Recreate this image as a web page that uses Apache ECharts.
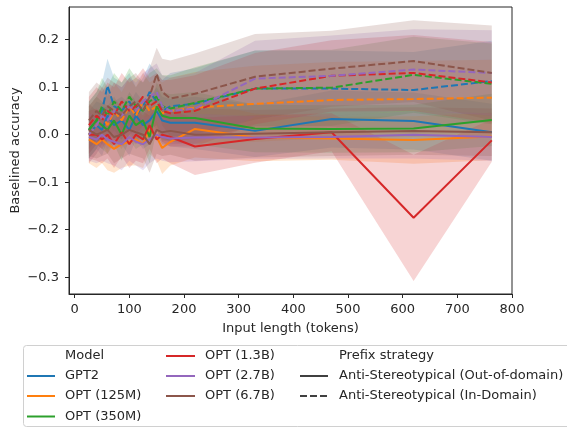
<!DOCTYPE html>
<html>
<head>
<meta charset="utf-8">
<script src="https://cdn.jsdelivr.net/npm/echarts@6/dist/echarts.min.js"></script>
<style>
  html, body { margin: 0; padding: 0; background: #fff; }
  #chart { width: 567px; height: 428px; }
</style>
</head>
<body>
<div id="chart"></div>
<script>
// Input lengths (tokens) at which each model / prefix strategy was evaluated
const xTokens = [26, 40, 50, 60, 72, 86, 100, 112, 125, 137, 150, 160, 175, 220, 330, 470, 620, 763];

const models = ['GPT2', 'OPT (125M)', 'OPT (350M)', 'OPT (1.3B)', 'OPT (2.7B)', 'OPT (6.7B)'];
const strategies = ['Anti-Stereotypical (Out-of-domain)', 'Anti-Stereotypical (In-Domain)'];

const xTicks = [0, 100, 200, 300, 400, 500, 600, 700, 800];
const yTicks = [-0.3, -0.2, -0.1, 0.0, 0.1, 0.2];

// Mean baselined accuracy, Out-of-domain prefix
const gpt2Out  = [0.0, 0.02, 0.01, 0.04, 0.02, 0.03, 0.01, 0.04, 0.02, 0.03, 0.05, 0.03, 0.025, 0.025, 0.008, 0.033, 0.029, 0.005];
const opt125Out = [-0.01, -0.02, -0.01, -0.02, -0.03, -0.02, -0.015, -0.01, -0.02, 0.01, -0.005, -0.028, -0.015, 0.012, -0.006, -0.008, -0.011, -0.004];
const opt350Out = [0.01, 0.03, 0.02, 0.01, 0.03, 0.0, 0.04, 0.02, 0.03, -0.005, 0.06, 0.04, 0.035, 0.035, 0.013, 0.012, 0.013, 0.031];
const opt1_3Out = [0.0, 0.0, -0.01, 0.0, -0.02, 0.005, -0.02, 0.0, -0.01, 0.02, -0.01, 0.0, -0.005, -0.025, -0.009, 0.005, -0.175, -0.012];
const opt2_7Out = [-0.005, -0.01, 0.0, -0.01, -0.015, -0.02, -0.005, -0.015, -0.02, -0.01, 0.0, -0.005, -0.008, -0.006, -0.006, -0.005, 0.0, -0.005];
const opt6_7Out = [0.01, 0.0, 0.005, 0.01, -0.005, 0.0, 0.01, 0.005, 0.0, -0.02, 0.01, 0.005, 0.008, 0.0, 0.002, 0.005, 0.008, 0.005];

// Mean baselined accuracy, In-Domain prefix
const gpt2In  = [0.01, 0.03, 0.05, 0.103, 0.06, 0.05, 0.07, 0.04, 0.06, 0.09, 0.07, 0.05, 0.06, 0.065, 0.097, 0.097, 0.094, 0.113];
const opt125In = [0.0, 0.02, 0.04, 0.02, 0.05, 0.03, 0.06, 0.04, 0.07, 0.05, 0.06, 0.045, 0.05, 0.057, 0.065, 0.073, 0.075, 0.078];
const opt350In = [0.01, 0.03, 0.06, 0.04, 0.07, 0.05, 0.08, 0.06, 0.05, 0.07, 0.08, 0.06, 0.055, 0.067, 0.097, 0.099, 0.126, 0.107];
const opt1_3In = [0.02, 0.04, 0.03, 0.05, 0.04, 0.07, 0.05, 0.06, 0.08, 0.06, 0.07, 0.05, 0.045, 0.05, 0.097, 0.124, 0.13, 0.11];
const opt2_7In = [0.0, 0.02, 0.04, 0.03, 0.05, 0.04, 0.06, 0.05, 0.07, 0.08, 0.09, 0.06, 0.05, 0.055, 0.118, 0.124, 0.137, 0.13];
const opt6_7In = [0.03, 0.05, 0.04, 0.06, 0.05, 0.04, 0.06, 0.07, 0.05, 0.08, 0.128, 0.09, 0.076, 0.086, 0.122, 0.139, 0.155, 0.13];

// 95% confidence interval half-widths, Out-of-domain prefix
const gpt2OutCI  = [0.05, 0.05, 0.055, 0.05, 0.05, 0.05, 0.055, 0.05, 0.05, 0.05, 0.05, 0.05, 0.05, 0.055, 0.055, 0.06, 0.06, 0.06];
const opt125OutCI = [0.05, 0.05, 0.05, 0.055, 0.05, 0.05, 0.05, 0.055, 0.05, 0.05, 0.05, 0.055, 0.05, 0.06, 0.05, 0.045, 0.05, 0.05];
const opt350OutCI = [0.05, 0.05, 0.05, 0.05, 0.05, 0.055, 0.05, 0.05, 0.05, 0.055, 0.05, 0.05, 0.05, 0.055, 0.05, 0.05, 0.05, 0.055];
const opt1_3OutCI = [0.05, 0.055, 0.05, 0.05, 0.05, 0.05, 0.05, 0.055, 0.05, 0.05, 0.05, 0.05, 0.055, 0.06, 0.05, 0.04, 0.133, 0.045];
const opt2_7OutCI = [0.05, 0.05, 0.055, 0.05, 0.05, 0.055, 0.05, 0.05, 0.055, 0.05, 0.05, 0.05, 0.05, 0.05, 0.045, 0.045, 0.05, 0.05];
const opt6_7OutCI = [0.055, 0.05, 0.05, 0.05, 0.055, 0.05, 0.05, 0.05, 0.05, 0.06, 0.05, 0.05, 0.05, 0.055, 0.05, 0.05, 0.05, 0.05];

// 95% confidence interval half-widths, In-Domain prefix
const gpt2InCI  = [0.06, 0.06, 0.06, 0.057, 0.06, 0.06, 0.06, 0.06, 0.06, 0.06, 0.06, 0.065, 0.07, 0.075, 0.08, 0.08, 0.08, 0.085];
const opt125InCI = [0.06, 0.06, 0.06, 0.06, 0.06, 0.06, 0.06, 0.06, 0.06, 0.06, 0.06, 0.065, 0.07, 0.075, 0.08, 0.08, 0.08, 0.08];
const opt350InCI = [0.06, 0.06, 0.06, 0.06, 0.06, 0.06, 0.06, 0.06, 0.06, 0.06, 0.06, 0.065, 0.07, 0.075, 0.08, 0.08, 0.08, 0.085];
const opt1_3InCI = [0.06, 0.06, 0.06, 0.06, 0.06, 0.06, 0.06, 0.06, 0.06, 0.06, 0.06, 0.065, 0.07, 0.075, 0.075, 0.075, 0.08, 0.085];
const opt2_7InCI = [0.06, 0.06, 0.06, 0.06, 0.06, 0.06, 0.06, 0.06, 0.06, 0.06, 0.06, 0.065, 0.07, 0.075, 0.08, 0.085, 0.085, 0.09];
const opt6_7InCI = [0.06, 0.06, 0.06, 0.06, 0.06, 0.06, 0.06, 0.06, 0.06, 0.06, 0.055, 0.07, 0.08, 0.085, 0.09, 0.08, 0.086, 0.1];

const palette = ['#1f77b4', '#ff7f0e', '#2ca02c', '#d62728', '#9467bd', '#8c564b'];

const groups = [
  [gpt2Out, gpt2OutCI, gpt2In, gpt2InCI],
  [opt125Out, opt125OutCI, opt125In, opt125InCI],
  [opt350Out, opt350OutCI, opt350In, opt350InCI],
  [opt1_3Out, opt1_3OutCI, opt1_3In, opt1_3InCI],
  [opt2_7Out, opt2_7OutCI, opt2_7In, opt2_7InCI],
  [opt6_7Out, opt6_7OutCI, opt6_7In, opt6_7InCI]
];

const FONT = 'DejaVu Sans';
const FS = 13;
const INK = '#262626';
const DASH = [7, 3];

// Confidence band: polygon through upper bounds then back along lower bounds
function bandSeries(name, mean, ci, color) {
  return {
    name: name,
    type: 'custom',
    z: 1,
    silent: true,
    animation: false,
    data: [[xTokens[0], mean[0]]],
    renderItem: function (params, api) {
      const upper = xTokens.map((x, i) => api.coord([x, mean[i] + ci[i]]));
      const lower = xTokens.map((x, i) => api.coord([x, mean[i] - ci[i]])).reverse();
      return {
        type: 'polygon',
        shape: { points: upper.concat(lower) },
        style: { fill: color, opacity: 0.2 }
      };
    }
  };
}

function lineSeries(name, mean, color, dashed) {
  return {
    name: name,
    type: 'line',
    z: 2,
    silent: true,
    animation: false,
    showSymbol: false,
    data: xTokens.map((x, i) => [x, mean[i]]),
    lineStyle: { color: color, width: 2, type: dashed ? DASH : 'solid' }
  };
}

const bands = [];
const lines = [];
groups.forEach((g, m) => {
  const color = palette[m];
  bands.push(bandSeries(models[m] + ' / ' + strategies[0], g[0], g[1], color));
  lines.push(lineSeries(models[m] + ' / ' + strategies[0], g[0], color, false));
  bands.push(bandSeries(models[m] + ' / ' + strategies[1], g[2], g[3], color));
  lines.push(lineSeries(models[m] + ' / ' + strategies[1], g[2], color, true));
});

// Legend block: two model columns plus the prefix-strategy column
const legendItems = [];
const rowY = [356, 376, 396, 416.5];
function legendText(x, y, text) {
  legendItems.push({
    type: 'text', x: x, y: y,
    style: { text: text, fill: INK, font: FS + 'px "' + FONT + '"', verticalAlign: 'middle', align: 'left' }
  });
}
function legendLine(x1, x2, y, color, dashed) {
  legendItems.push({
    type: 'line',
    shape: { x1: x1, y1: y, x2: x2, y2: y },
    style: { stroke: color, lineWidth: 2, lineDash: dashed ? DASH : null }
  });
}
legendItems.push({
  type: 'rect',
  shape: { x: 23.5, y: 345.5, width: 570, height: 81, r: 3 },
  style: { fill: 'rgba(255,255,255,0.85)', stroke: '#d0d0d0', lineWidth: 1 }
});
legendText(65, rowY[0], 'Model');
[0, 1, 2].forEach((m, k) => {
  legendLine(27, 55, rowY[k + 1], palette[m], false);
  legendText(65, rowY[k + 1], models[m]);
});
[3, 4, 5].forEach((m, k) => {
  legendLine(166, 195, rowY[k], palette[m], false);
  legendText(205, rowY[k], models[m]);
});
legendText(339, rowY[0], 'Prefix strategy');
legendLine(300, 328, rowY[1], '#404040', false);
legendText(339, rowY[1], strategies[0]);
legendLine(300, 328, rowY[2], '#404040', true);
legendText(339, rowY[2], strategies[1]);

const fmtNum = v => v.toFixed(1).replace('-', '\u2212');

const chart = echarts.init(document.getElementById('chart'), null, { renderer: 'canvas' });
chart.setOption({
  backgroundColor: '#ffffff',
  animation: false,
  textStyle: { fontFamily: FONT },
  grid: {
    left: 69, top: 7, width: 443, height: 287,
    outerBoundsMode: 'none',
    containLabel: false,
    show: true, borderColor: '#262626', borderWidth: 1, backgroundColor: 'transparent'
  },
  xAxis: {
    type: 'value',
    min: -10.4, max: 800,
    name: 'Input length (tokens)',
    nameLocation: 'middle',
    nameGap: 28,
    nameMoveOverlap: false,
    nameTextStyle: { fontFamily: FONT, fontSize: FS, color: INK },
    axisLine: { show: true, onZero: false, lineStyle: { color: '#262626', width: 1 } },
    axisTick: { show: true, length: 4, customValues: xTicks, lineStyle: { color: '#262626' } },
    axisLabel: { customValues: xTicks, fontFamily: FONT, fontSize: FS, color: INK, margin: 9 },
    splitLine: { show: false }
  },
  yAxis: {
    type: 'value',
    min: -0.3354, max: 0.2688,
    name: 'Baselined accuracy',
    nameLocation: 'middle',
    nameGap: 47,
    nameMoveOverlap: false,
    nameRotate: 90,
    nameTextStyle: { fontFamily: FONT, fontSize: FS, color: INK },
    axisLine: { show: true, onZero: false, lineStyle: { color: '#262626', width: 1 } },
    axisTick: { show: true, length: 4, customValues: yTicks, lineStyle: { color: '#262626' } },
    axisLabel: { customValues: yTicks, formatter: fmtNum, fontFamily: FONT, fontSize: FS, color: INK, margin: 10 },
    splitLine: { show: false }
  },
  graphic: legendItems,
  series: bands.concat(lines)
});
</script>
</body>
</html>
